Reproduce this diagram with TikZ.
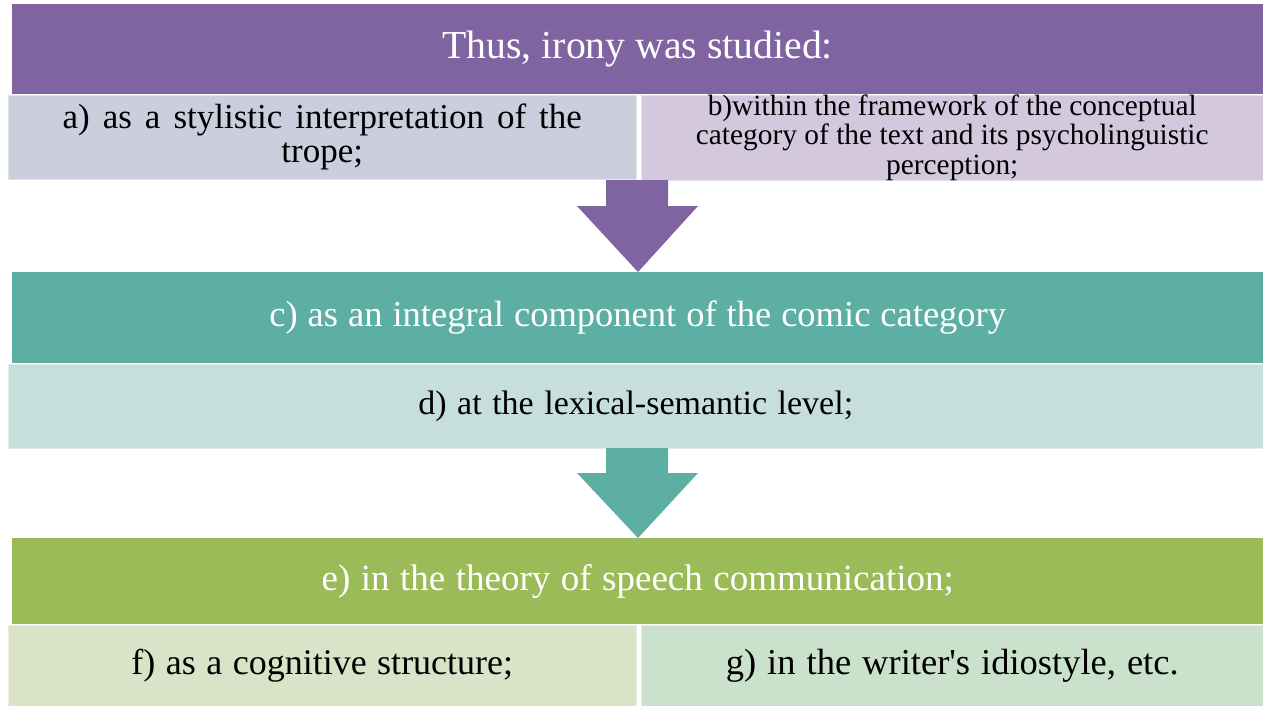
\documentclass[tikz,border=0pt]{standalone}
\usepackage{fontspec}
\setmainfont{Liberation Serif}
\newcommand\myws[1]{\spaceskip=#1\relax}
\definecolor{cPurple}{HTML}{8064A2}
\definecolor{cTeal}{HTML}{5DAFA4}
\definecolor{cGreen}{HTML}{9BBB59}
\definecolor{cA}{HTML}{CBCEDD}
\definecolor{cB}{HTML}{D3C8DE}
\definecolor{cD}{HTML}{C6DFDC}
\definecolor{cF}{HTML}{D9E3C8}
\definecolor{cG}{HTML}{CAE1CC}
\tikzset{
  bar/.style={anchor=north west, inner sep=0pt, minimum width=1251pt, minimum height=90pt, text=white},
  sub/.style={anchor=north west, inner sep=0pt, minimum height=85pt, text=black, draw=white, draw opacity=0.45, line width=1.5pt, align=center}
}
\begin{document}
\begin{tikzpicture}[x=1pt,y=-1pt]
\useasboundingbox (0,0) rectangle (1263,705);
% top group
\node[bar, fill=cPurple, font=\fontsize{39.7}{44}\selectfont] (top) at (12,4) {Thus, irony was studied:};
\node[sub, fill=cA, minimum width=629pt, font=\fontsize{35}{34}\selectfont\myws{13pt}] (a) at (7,94) {a) as a stylistic interpretation of the\\trope;};
\node[sub, fill=cB, minimum width=623pt, font=\fontsize{29.4}{29.5}\selectfont] (b) at (640,94) {b)within the framework of the conceptual\\category of the text and its psycholinguistic\\perception;};
% middle group
\node[bar, fill=cTeal, minimum height=91pt, font=\fontsize{36.5}{42}\selectfont\myws{10pt}] (mid) at (12,272) {c) as an integral component of the comic category};
\node[sub, fill=cD, minimum width=1256pt, font=\fontsize{34}{40}\selectfont\myws{10.5pt}] (d) at (7,363) {d) at the lexical-semantic level;};
% bottom group
\node[bar, fill=cGreen, minimum height=86pt, font=\fontsize{37}{42}\selectfont\myws{10.5pt}] (bot) at (12,538) {e) in the theory of speech communication;};
\node[sub, fill=cF, minimum width=629pt, minimum height=82pt, font=\fontsize{36}{42}\selectfont\myws{10.5pt}] (f) at (7,624) {f) as a cognitive structure;};
\node[sub, fill=cG, minimum width=623pt, minimum height=82pt, font=\fontsize{36.5}{42}\selectfont\myws{11pt}] (g) at (640,624) {g) in the writer\textquotesingle s idiostyle, etc.};
% arrows
\coordinate (t1) at (638,272);
\coordinate (t2) at (638,538);
\fill[cPurple] (606,180) -- (668,180) -- (668,206) -- (698,206) -- (t1) -- (577,206) -- (606,206) -- cycle;
\fill[cTeal] (606,448) -- (668,448) -- (668,473) -- (698,473) -- (t2) -- (577,473) -- (606,473) -- cycle;
\end{tikzpicture}
\end{document}
